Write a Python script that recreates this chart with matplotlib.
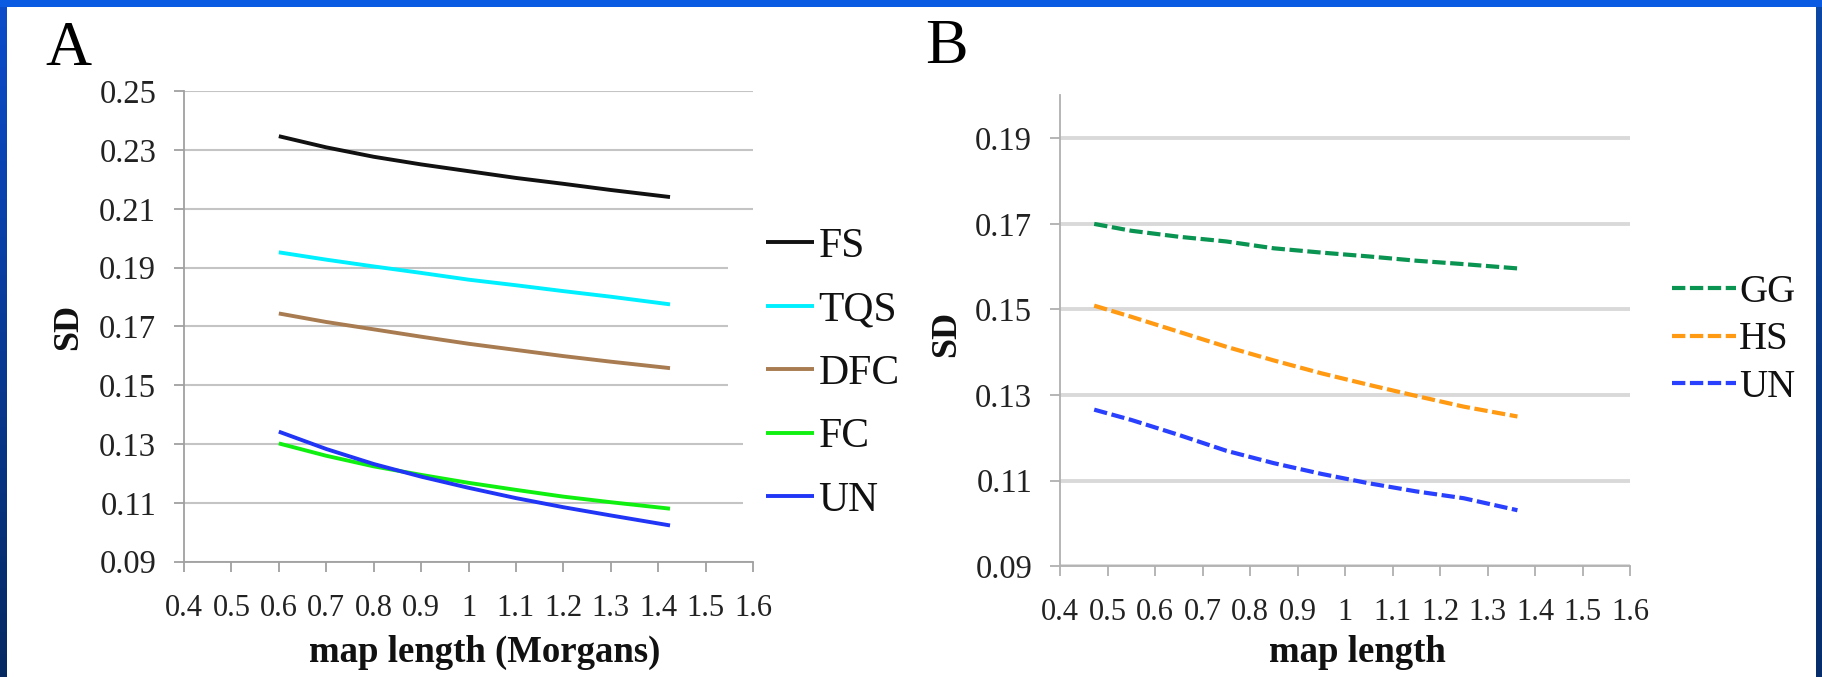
import numpy as np
import matplotlib
matplotlib.use("Agg")
import matplotlib.pyplot as plt
from matplotlib.patches import Rectangle

# ---------------- data ----------------
xA = [0.6, 0.7, 0.8, 0.9, 1.0, 1.1, 1.2, 1.3, 1.425]
FS = [0.2347, 0.2309, 0.2277, 0.2251, 0.2228, 0.2205, 0.2185, 0.2164, 0.2140]
TQS = [0.1952, 0.1927, 0.1904, 0.1882, 0.1859, 0.1840, 0.1820, 0.1801, 0.1775]
DFC = [0.1744, 0.1715, 0.1690, 0.1665, 0.1641, 0.1620, 0.1599, 0.1580, 0.1558]
FC = [0.1302, 0.1260, 0.1224, 0.1195, 0.1168, 0.1144, 0.1121, 0.1102, 0.1080]
UN_A = [0.1342, 0.1283, 0.1232, 0.1189, 0.1151, 0.1116, 0.1085, 0.1057, 0.1023]

xB = [0.472, 0.55, 0.65, 0.75, 0.85, 0.95, 1.05, 1.15, 1.25, 1.363]
GG = [0.1700, 0.1684, 0.1670, 0.1659, 0.1643, 0.1633, 0.1624, 0.1614, 0.1606, 0.1596]
HS = [0.1509, 0.1483, 0.1448, 0.1413, 0.1381, 0.1351, 0.1324, 0.1298, 0.1273, 0.1250]
UN_B = [0.1266, 0.1242, 0.1207, 0.1170, 0.1141, 0.1116, 0.1094, 0.1075, 0.1059, 0.1031]

x_ticks = [0.4, 0.5, 0.6, 0.7, 0.8, 0.9, 1.0, 1.1, 1.2, 1.3, 1.4, 1.5, 1.6]
x_ticklabels = ["0.4", "0.5", "0.6", "0.7", "0.8", "0.9", "1", "1.1", "1.2",
                "1.3", "1.4", "1.5", "1.6"]
yA_ticks = [0.09, 0.11, 0.13, 0.15, 0.17, 0.19, 0.21, 0.23, 0.25]
yA_ticklabels = ["0.09", "0.11", "0.13", "0.15", "0.17", "0.19", "0.21", "0.23", "0.25"]
yB_ticks = [0.09, 0.11, 0.13, 0.15, 0.17, 0.19]
yB_ticklabels = ["0.09", "0.11", "0.13", "0.15", "0.17", "0.19"]

seriesA = [("FS", FS, "#111111"), ("TQS", TQS, "#00f0ff"), ("DFC", DFC, "#a87c50"),
           ("FC", FC, "#10f010"), ("UN", UN_A, "#2035f5")]
seriesB = [("GG", GG, "#0a9452"), ("HS", HS, "#ff9a12"), ("UN", UN_B, "#2a40ff")]

# ---------------- layout ----------------
W, H = 1822, 677
plt.rcParams['font.family'] = ['Liberation Serif', 'DejaVu Serif']
fig = plt.figure(figsize=(W / 100, H / 100), dpi=100, facecolor="white")


def fx(px):
    return px / W


def fy(py):
    return 1 - py / H


# slide border (decoration)
grad = np.linspace(0, 1, H)[:, None, None]
top_c = np.array([0.04, 0.30, 0.80])
bot_c = np.array([0.02, 0.16, 0.38])
left_img = (top_c * (1 - grad) + bot_c * grad) * np.ones((H, 7, 3))
fig.figimage(left_img, xo=0, yo=0, origin="upper", zorder=0)
right_img = (np.array([0.05, 0.28, 0.65]) * (1 - grad) +
             np.array([0.03, 0.18, 0.42]) * grad) * np.ones((H, 6, 3))
fig.figimage(right_img, xo=W - 6, yo=0, origin="upper", zorder=0)
fig.patches.append(Rectangle((0, fy(7)), 1, 7 / H, transform=fig.transFigure,
                             facecolor="#0b5be2", edgecolor="none", zorder=1))


def style_axes(ax, grid_color, grid_lw, spine_color):
    for s in ("top", "right"):
        ax.spines[s].set_visible(False)
    for s in ("left", "bottom"):
        ax.spines[s].set_color(spine_color)
        ax.spines[s].set_linewidth(1.3)
    ax.yaxis.grid(True, color=grid_color, linewidth=grid_lw)
    ax.xaxis.grid(False)
    ax.set_axisbelow(True)
    ax.tick_params(axis="both", colors=spine_color, width=1.3, length=7, direction="out")
    ax.tick_params(axis="x", labelsize=22, labelcolor="#222222", pad=16)
    ax.tick_params(axis="y", labelsize=23.5, labelcolor="#222222", pad=13)
    ax.set_xlim(0.4, 1.6)
    ax.set_xticks(x_ticks)
    ax.set_xticklabels(x_ticklabels)


# ---------------- panel A ----------------
axA = fig.add_axes([fx(184), fy(561.6), fx(753) - fx(184), (561.6 - 91.2) / H])
style_axes(axA, "#c4c4c4", 1.5, "#a0a0a0")
axA.set_ylim(0.09, 0.25)
axA.set_yticks(yA_ticks)
axA.set_yticklabels(yA_ticklabels)
for name, vals, col in seriesA:
    axA.plot(xA, vals, color=col, lw=2.8, label=name, solid_capstyle="butt")
axA.set_xlabel("map length (Morgans)", fontsize=26.5, fontweight="bold", color="#111111")
axA.xaxis.set_label_coords((485 - 184) / 569, (561.6 - 652) / 470.4)
axA.xaxis.label.set_va("center")
axA.set_ylabel("SD", fontsize=26, fontweight="bold", color="#111111")
axA.yaxis.set_label_coords((69 - 184) / 569, (561.6 - 327) / 470.4)
axA.yaxis.label.set_va("center")
legA = axA.legend(loc="upper left", bbox_to_anchor=(fx(758), fy(219)),
                  bbox_transform=fig.transFigure, frameon=True, facecolor="white",
                  edgecolor="none", framealpha=1, fontsize=30, borderpad=0.2,
                  borderaxespad=0, handlelength=1.15, handletextpad=0.1,
                  labelspacing=0.6)
for t in legA.get_texts():
    t.set_color("#111111")

# white legend area hiding the grid ends, as in the original
fig.patches.append(Rectangle((fx(728), fy(405)), fx(754) - fx(728), 160 / H,
                             transform=fig.transFigure, facecolor="white",
                             edgecolor="none", zorder=1))
fig.patches.append(Rectangle((fx(743), fy(520)), fx(754) - fx(743), 100 / H,
                             transform=fig.transFigure, facecolor="white",
                             edgecolor="none", zorder=1))

fig.text(fx(45), fy(65), "A", fontsize=46, ha="left", va="baseline", color="black")

# ---------------- panel B ----------------
axB = fig.add_axes([fx(1060), fy(566.3), fx(1630) - fx(1060), (566.3 - 95.5) / H])
style_axes(axB, "#d9d9d9", 2.8, "#b0b0b0")
axB.set_ylim(0.09, 0.20)
axB.set_yticks(yB_ticks)
axB.set_yticklabels(yB_ticklabels)
for name, vals, col in seriesB:
    axB.plot(xB, vals, color=col, lw=3.0, label=name, dashes=(3.2, 1.1),
             dash_capstyle="butt")
axB.set_xlabel("map length", fontsize=26.5, fontweight="bold", color="#111111")
axB.xaxis.set_label_coords((1357 - 1060) / 570, (566.3 - 652) / 470.8)
axB.xaxis.label.set_va("center")
axB.set_ylabel("SD", fontsize=26, fontweight="bold", color="#111111")
axB.yaxis.set_label_coords((947 - 1060) / 570, (566.3 - 334) / 470.8)
axB.yaxis.label.set_va("center")
legB = axB.legend(loc="upper left", bbox_to_anchor=(fx(1664), fy(266)),
                  bbox_transform=fig.transFigure, frameon=True, facecolor="white",
                  edgecolor="none", framealpha=1, fontsize=28, borderpad=0.2,
                  borderaxespad=0, handlelength=1.65, handletextpad=0.08,
                  labelspacing=0.27)
for t in legB.get_texts():
    t.set_color("#111111")

fig.text(fx(925), fy(63), "B", fontsize=46, ha="left", va="baseline", color="black")

fig.savefig("out.png", dpi=100, facecolor="white")
